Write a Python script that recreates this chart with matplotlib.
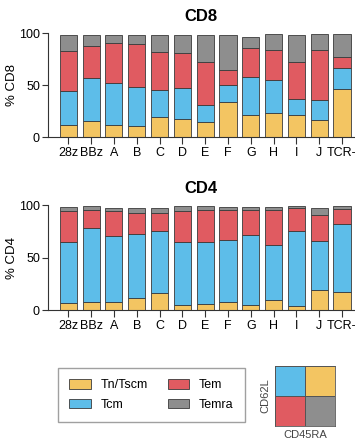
import numpy as np
import matplotlib
matplotlib.use("Agg")
import matplotlib.pyplot as plt
from matplotlib.patches import Patch
from matplotlib.colors import ListedColormap

plt.rcParams['font.family'] = ['Liberation Sans', 'DejaVu Sans']

groups = ['28z', 'BBz', 'A', 'B', 'C', 'D', 'E', 'F', 'G', 'H', 'I', 'J', 'TCR-']
subsets = ['Tn/Tscm', 'Tcm', 'Tem', 'Temra']
colors = ['#F3C562', '#5DBDE9', '#E05B61', '#8E8E8E']

# percent of each subset per construct, stacked bottom to top
cd8_tn = [12, 15, 12, 11, 19.5, 17, 14, 34, 21, 23.5, 21, 16.5, 46]
cd8_tcm = [32, 41.5, 40, 37, 25.5, 30, 17, 16, 36.5, 31, 16, 19.5, 20]
cd8_tem = [39, 31, 38, 41, 36.5, 34, 41.5, 14, 28, 29.5, 35, 47.5, 11]
cd8_temra = [15.5, 11, 8.5, 9.5, 17, 17.5, 25.5, 34, 10.5, 15, 26.5, 16, 22]

cd4_tn = [7, 7.5, 8, 11.5, 16.5, 5, 6, 7.5, 5.5, 10, 4, 19, 17]
cd4_tcm = [58.5, 71, 62.5, 61, 59, 60, 59.5, 59.5, 66, 52, 72, 47, 65]
cd4_tem = [29.5, 17.5, 24.5, 20, 17.5, 30, 30, 28.5, 24.5, 34, 21, 24.5, 14.5]
cd4_temra = [3.5, 3, 2.5, 5, 4.5, 4, 3.5, 3, 2.5, 2.5, 2.5, 7, 2.5]

fig = plt.figure(figsize=(3.55, 4.44), dpi=100)
x = np.arange(len(groups))


def stacked(ax, series, title, ylabel):
    bottom = np.zeros(len(groups))
    for vals, c in zip(series, colors):
        ax.bar(x, vals, width=0.75, bottom=bottom, color=c,
               edgecolor='#3a3a3a', linewidth=0.6)
        bottom += np.array(vals)
    ax.set_xlim(-0.91, 12.57)
    ax.set_ylim(0, 100)
    ax.set_yticks([0, 50, 100])
    ax.set_xticks(x)
    ax.set_xticklabels(groups)
    ax.tick_params(axis='both', labelsize=9, length=4, width=0.8,
                   color='#333333', pad=1.5)
    ax.tick_params(axis='x', length=5, pad=2)
    for s in ['top', 'right']:
        ax.spines[s].set_visible(False)
    for s in ['left', 'bottom']:
        ax.spines[s].set_linewidth(0.8)
        ax.spines[s].set_color('#333333')
    ax.set_title(title, fontsize=12, fontweight='bold', pad=9)
    ax.set_ylabel(ylabel, fontsize=9.5, labelpad=1)


ax1 = fig.add_axes([0.134, 0.6914, 0.866, 0.2342])
stacked(ax1, [cd8_tn, cd8_tcm, cd8_tem, cd8_temra], 'CD8', '% CD8')

ax2 = fig.add_axes([0.134, 0.3011, 0.866, 0.2365])
stacked(ax2, [cd4_tn, cd4_tcm, cd4_tem, cd4_temra], 'CD4', '% CD4')

handles = [Patch(facecolor=c, edgecolor='#3a3a3a', linewidth=0.6) for c in colors]
fig.legend(handles, subsets, ncol=2, loc='center', bbox_to_anchor=(0.427, 0.110),
           fontsize=9, frameon=True, fancybox=False, edgecolor='#888888',
           handlelength=1.7, handleheight=0.8, columnspacing=1.6,
           borderpad=0.9, labelspacing=0.6)

# CD62L / CD45RA quadrant key
key = fig.add_axes([275 / 355, 1 - 426 / 444, 60 / 355, 60 / 444])
quadrants = np.array([[2, 3], [1, 0]])
key.pcolormesh(quadrants, cmap=ListedColormap(colors), vmin=-0.5, vmax=3.5,
               edgecolors='#555555', linewidth=0.6)
key.set_xticks([])
key.set_yticks([])
for s in key.spines.values():
    s.set_color('#555555')
    s.set_linewidth(0.6)
key.set_xlabel('CD45RA', fontsize=8, color='#444444', labelpad=3)
key.set_ylabel('CD62L', fontsize=8, color='#444444', labelpad=3)

fig.savefig('out.png', dpi=100)
